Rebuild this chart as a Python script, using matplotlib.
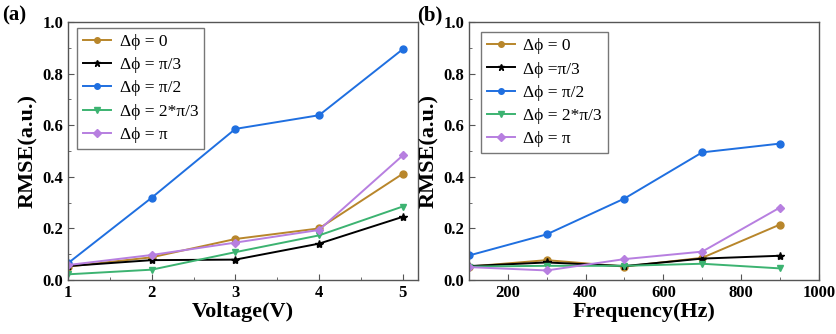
import matplotlib
matplotlib.use("Agg")
import matplotlib.pyplot as plt
from matplotlib.ticker import MultipleLocator, FormatStrFormatter

plt.rcParams['font.family'] = ['Liberation Serif', 'DejaVu Serif']

labels_a = ["Δϕ = 0", "Δϕ = π/3", "Δϕ = π/2", "Δϕ = 2*π/3", "Δϕ = π"]
labels_b = ["Δϕ = 0", "Δϕ =π/3", "Δϕ = π/2", "Δϕ = 2*π/3", "Δϕ = π"]
colors = ["#b8862b", "#000000", "#1f6fe0", "#3cb371", "#b77fe0"]
markers = ["o", "*", "o", "v", "D"]
msizes = [5, 6, 5, 5, 4.5]

voltage = [1, 2, 3, 4, 5]
volt_vals = [
    [0.052, 0.088, 0.159, 0.200, 0.412],
    [0.054, 0.077, 0.079, 0.141, 0.245],
    [0.065, 0.319, 0.586, 0.639, 0.895],
    [0.022, 0.040, 0.108, 0.173, 0.285],
    [0.058, 0.097, 0.145, 0.194, 0.483],
]

freq = [100, 300, 500, 700, 900]
freq_vals = [
    [0.052, 0.077, 0.052, 0.086, 0.215],
    [0.054, 0.068, 0.054, 0.083, 0.094],
    [0.095, 0.177, 0.316, 0.495, 0.529],
    [0.052, 0.055, 0.055, 0.063, 0.045],
    [0.050, 0.037, 0.081, 0.110, 0.281],
]

fig = plt.figure(figsize=(8.37, 3.34), dpi=100)
axa = fig.add_axes([0.0812, 0.1617, 0.418, 0.772])
axb = fig.add_axes([0.5603, 0.1617, 0.418, 0.772])

def style(ax):
    for s in ax.spines.values():
        s.set_color("#555555")
        s.set_linewidth(1.0)
    ax.tick_params(direction="in", which="both", colors="#555555", labelcolor="black",
                   labelsize=12)
    ax.tick_params(which="major", length=4)
    ax.tick_params(which="minor", length=2)
    for lab in ax.get_xticklabels() + ax.get_yticklabels():
        lab.set_fontweight("bold")
    ax.set_ylim(0, 1.0)
    ax.yaxis.set_major_locator(MultipleLocator(0.2))
    ax.yaxis.set_minor_locator(MultipleLocator(0.1))
    ax.yaxis.set_major_formatter(FormatStrFormatter("%.1f"))
    ax.set_ylabel("RMSE(a.u.)", fontsize=16, fontweight="bold", labelpad=3)

for vals, c, m, ms, lab in zip(volt_vals, colors, markers, msizes, labels_a):
    axa.plot(voltage, vals, color=c, marker=m, markersize=ms, lw=1.4, label=lab)
axa.set_xlim(1, 5.18)
axa.xaxis.set_major_locator(MultipleLocator(1))
axa.xaxis.set_minor_locator(MultipleLocator(0.5))
axa.set_xlabel("Voltage(V)", fontsize=16, fontweight="bold", labelpad=1)
style(axa)

for vals, c, m, ms, lab in zip(freq_vals, colors, markers, msizes, labels_b):
    axb.plot(freq, vals, color=c, marker=m, markersize=ms, lw=1.4, label=lab)
axb.set_xlim(100, 1000)
axb.xaxis.set_major_locator(MultipleLocator(200))
axb.xaxis.set_minor_locator(MultipleLocator(100))
axb.set_xlabel("Frequency(Hz)", fontsize=16, fontweight="bold", labelpad=1)
style(axb)

for ax, anchor in ((axa, (0.026, 0.977)), (axb, (0.034, 0.961))):
    leg = ax.legend(loc="upper left", bbox_to_anchor=anchor, borderaxespad=0,
                    fontsize=12.5, frameon=True, fancybox=False, edgecolor="#555555",
                    handlelength=1.6, handletextpad=0.5, borderpad=0.35,
                    labelspacing=0.4, markerscale=0.8)
    leg.get_frame().set_linewidth(1.0)

fig.text(0.002, 0.955, "(a)", fontsize=15, fontweight="bold", va="center", ha="left")
fig.text(0.498, 0.955, "(b)", fontsize=15, fontweight="bold", va="center", ha="left")

fig.savefig("out.png", dpi=100)
